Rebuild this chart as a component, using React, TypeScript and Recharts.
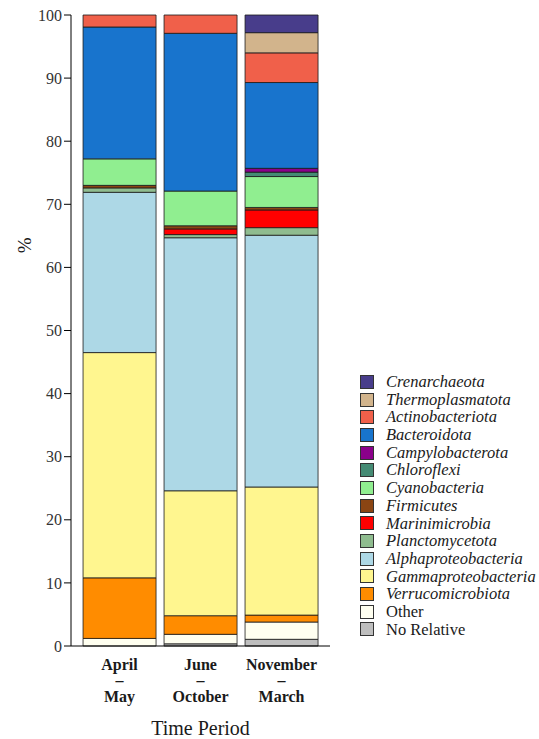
import { BarChart, Bar, XAxis, YAxis } from 'recharts'

const periods = ['April – May', 'June – October', 'November – March']

// relative abundance (%) per period, stack order bottom -> top
const noRelative = [0, 0.35, 1.06]
const other = [1.2, 1.5, 2.74]
const verrucomicrobiota = [9.6, 2.95, 1.1]
const gammaproteobacteria = [35.7, 19.8, 20.3]
const alphaproteobacteria = [25.4, 40.1, 39.9]
const planctomycetota = [0.7, 0.5, 1.2]
const marinimicrobia = [0, 0.9, 2.8]
const firmicutes = [0.4, 0.5, 0.4]
const cyanobacteria = [4.2, 5.5, 4.9]
const chloroflexi = [0, 0, 0.7]
const campylobacterota = [0, 0, 0.6]
const bacteroidota = [20.9, 25.0, 13.6]
const actinobacteriota = [1.9, 2.9, 4.7]
const thermoplasmatota = [0, 0, 3.2]
const crenarchaeota = [0, 0, 2.8]

const yTicks = [0, 10, 20, 30, 40, 50, 60, 70, 80, 90, 100]

const taxa = [
  { key: 'noRelative', name: 'No Relative', color: '#BEBEBE', italic: false, values: noRelative },
  { key: 'other', name: 'Other', color: '#FFFFF0', italic: false, values: other },
  { key: 'verrucomicrobiota', name: 'Verrucomicrobiota', color: '#FF8C00', italic: true, values: verrucomicrobiota },
  { key: 'gammaproteobacteria', name: 'Gammaproteobacteria', color: '#FFF68F', italic: true, values: gammaproteobacteria },
  { key: 'alphaproteobacteria', name: 'Alphaproteobacteria', color: '#ADD8E6', italic: true, values: alphaproteobacteria },
  { key: 'planctomycetota', name: 'Planctomycetota', color: '#8FBC8F', italic: true, values: planctomycetota },
  { key: 'marinimicrobia', name: 'Marinimicrobia', color: '#FF0000', italic: true, values: marinimicrobia },
  { key: 'firmicutes', name: 'Firmicutes', color: '#8B4513', italic: true, values: firmicutes },
  { key: 'cyanobacteria', name: 'Cyanobacteria', color: '#90EE90', italic: true, values: cyanobacteria },
  { key: 'chloroflexi', name: 'Chloroflexi', color: '#458B74', italic: true, values: chloroflexi },
  { key: 'campylobacterota', name: 'Campylobacterota', color: '#8B008B', italic: true, values: campylobacterota },
  { key: 'bacteroidota', name: 'Bacteroidota', color: '#1874CD', italic: true, values: bacteroidota },
  { key: 'actinobacteriota', name: 'Actinobacteriota', color: '#F0604A', italic: true, values: actinobacteriota },
  { key: 'thermoplasmatota', name: 'Thermoplasmatota', color: '#D2B48C', italic: true, values: thermoplasmatota },
  { key: 'crenarchaeota', name: 'Crenarchaeota', color: '#483D8B', italic: true, values: crenarchaeota },
]

const data = periods.map((period, i) => {
  const row: Record<string, string | number> = { period }
  taxa.forEach((t) => {
    row[t.key] = t.values[i]
  })
  return row
})

const serif = '"Liberation Serif", "Times New Roman", "DejaVu Serif", serif'

function PeriodTick({ x, y, payload }: any) {
  const lines = String(payload.value).split(' ')
  return (
    <text x={x} y={y} textAnchor="middle" fontFamily={serif} fontWeight="bold" fontSize={16} fill="#1a1a1a">
      {lines.map((line, i) => (
        <tspan key={i} x={x} dy={16}>
          {line}
        </tspan>
      ))}
    </text>
  )
}

function PercentLabel({ viewBox }: any) {
  const cx = viewBox.x + 14
  const cy = viewBox.y + viewBox.height * 0.365
  return (
    <text x={cx} y={cy} textAnchor="middle" dominantBaseline="central" fontFamily={serif} fontSize={19} fill="#1a1a1a" transform={`rotate(-90 ${cx} ${cy})`}>
      %
    </text>
  )
}

function PeriodTitle({ viewBox }: any) {
  return (
    <text x={viewBox.x + viewBox.width / 2} y={viewBox.y + 89} textAnchor="middle" fontFamily={serif} fontSize={20} fill="#1a1a1a">
      Time Period
    </text>
  )
}

export default function App() {
  const legendItems = [...taxa].reverse()
  return (
    <div style={{ position: 'absolute', left: 0, top: 0, width: 539, height: 739, background: '#fff' }}>
      <BarChart width={539} height={739} data={data} margin={{ top: 15, right: 209, bottom: 0, left: 11 }} barCategoryGap="5%">
        <XAxis
          dataKey="period"
          height={93}
          padding={{ left: 8, right: 8 }}
          tickLine={false}
          axisLine={{ stroke: '#000', strokeWidth: 1 }}
          tick={<PeriodTick />}
          interval={0}
          label={<PeriodTitle />}
        />
        <YAxis
          width={60}
          domain={[0, 100]}
          ticks={yTicks}
          tickSize={7}
          tickMargin={2}
          axisLine={{ stroke: '#000', strokeWidth: 1 }}
          tickLine={{ stroke: '#000' }}
          tick={{ fontFamily: serif, fontSize: 16, fill: '#333', style: { fontFamily: serif } }}
          label={<PercentLabel />}
        />
        {taxa.map((t) => (
          <Bar key={t.key} dataKey={t.key} name={t.name} stackId="a" fill={t.color} stroke="#1a1a1a" strokeWidth={0.8} isAnimationActive={false} />
        ))}
      </BarChart>
      <div style={{ position: 'absolute', left: 360, top: 373, fontFamily: serif, fontSize: 16.5, color: '#1a1a1a' }}>
        {legendItems.map((t) => (
          <div key={t.key} style={{ display: 'flex', alignItems: 'center', height: 17.7 }}>
            <span style={{ width: 14, height: 14, boxSizing: 'border-box', border: '1px solid #333', background: t.color, display: 'inline-block', flexShrink: 0 }} />
            <span style={{ marginLeft: 12, fontStyle: t.italic ? 'italic' : 'normal', lineHeight: '17.7px', whiteSpace: 'nowrap' }}>{t.name}</span>
          </div>
        ))}
      </div>
    </div>
  )
}
